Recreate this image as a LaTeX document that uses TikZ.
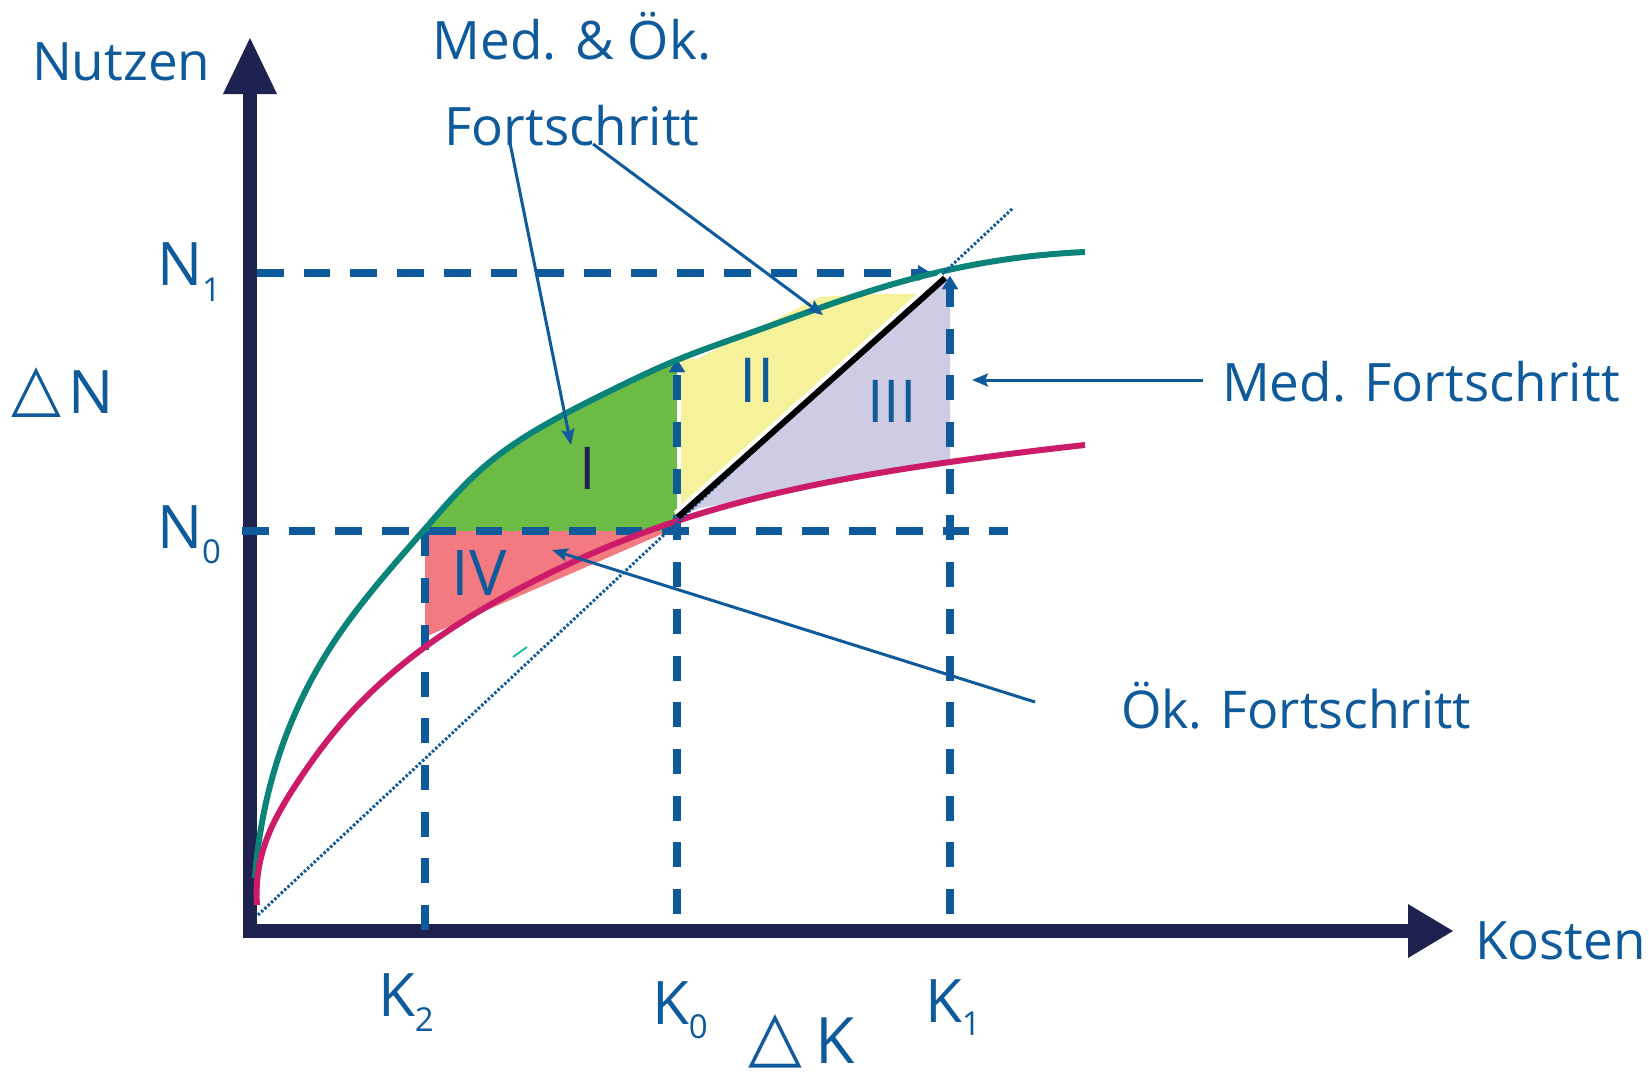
\documentclass[tikz,border=0pt]{standalone}
\usepackage{fontspec}
\setmainfont{Open Sans}
\newfontfamily\dejavu{DejaVu Sans}
\usetikzlibrary{arrows.meta,hobby}
\definecolor{txtblue}{HTML}{0F5A9A}
\definecolor{navy}{HTML}{1F2150}
\definecolor{tealc}{HTML}{0A8378}
\definecolor{magc}{HTML}{CC1B68}
\definecolor{greenc}{HTML}{6CBB45}
\definecolor{yellowc}{HTML}{F6F29B}
\definecolor{lavc}{HTML}{CECBE4}
\definecolor{salmonc}{HTML}{F27A80}
\definecolor{straytl}{HTML}{22C0A0}
\newcommand{\lsub}[2]{\raisebox{-#1pt}{\fontsize{33}{33}\selectfont #2}}
\newcommand{\tri}[2]{\raisebox{#2pt}{\fontsize{#1}{#1}\dejavu △}}
\begin{document}
\begin{tikzpicture}[x=1pt,y=-1pt,
  lbl/.style={text=txtblue, inner sep=0pt, outer sep=0pt, anchor=base west},
  big/.style={font=\fontsize{53}{60}\selectfont},
  axlbl/.style={font=\fontsize{60}{60}\selectfont},
  reg/.style={text=txtblue, inner sep=0pt, anchor=base},
  guide/.style={txtblue, line width=7.5pt, dash pattern=on 26.7pt off 20pt},
  vguide/.style={txtblue, line width=7.5pt, dash pattern=on 25pt off 21.7pt},
  gtip/.style={-{Triangle[length=13pt,width=16pt,line width=0.01pt]}},
  note/.style={txtblue, line width=3pt, -{Stealth[length=16pt,width=13pt,inset=3pt]}}
]
\useasboundingbox (0,0) rectangle (1649,1080);
\fill[white] (0,0) rectangle (1649,1080);

% ---- filled regions ----
\begin{scope}
  \clip (424,300) rectangle (677,531);
  \fill[greenc, use Hobby shortcut] (255,878) .. (263,817) .. (287,733) .. (330,648) .. (380,581) .. (424,530) .. (485,466) .. (561,416) .. (612,390) .. (677,360) .. (750,333) .. (867,292) .. (948,270) .. (1085,252) -- (1085,931) -- (255,931) -- cycle;
\end{scope}
\fill[salmonc] (425,531) -- (669,531) -- (425,637) -- cycle;
\fill[yellowc] (681,359) -- (697,359) -- (820,297) -- (867,294) -- (928,294) -- (681,508) -- cycle;
\fill[lavc] (678,517) -- (947,277) -- (950,280) -- (950,463) -- (700,508) -- cycle;

% ---- axes ----
\coordinate (O) at (250,931);
\coordinate (ytip) at (250,38);
\coordinate (xtip) at (1453,931);
\draw[navy, line width=14pt] (250,938) -- (250,90);
\fill[navy] (ytip) -- (277,94) -- (223,94) -- cycle;
\draw[navy, line width=14pt] (243,931) -- (1412,931);
\fill[navy] (xtip) -- (1408,904) -- (1408,958) -- cycle;

% ---- guide lines ----
\draw[guide, gtip] (257,273) -- (931,273);
\draw[guide] (242,531) -- (1008,531);
\draw[vguide] (425,930) -- (425,531);
\draw[vguide, gtip] (677,914) -- (677,359);
\draw[vguide, gtip] (950,914) -- (950,276);

% ---- curves ----
\draw[tealc, line width=6pt, use Hobby shortcut] (255,878) .. (263,817) .. (287,733) .. (330,648) .. (380,581) .. (424,530) .. (485,466) .. (561,416) .. (612,390) .. (677,360) .. (750,333) .. (867,292) .. (948,270) .. (1085,252);
\draw[magc, line width=6pt, use Hobby shortcut] (257,905) .. (263,850) .. (297,783) .. (347,717) .. (425,647) .. (530,583) .. (600,550) .. (677,521) .. (800,488) .. (950,462) .. (1085,445);
\draw[txtblue, line width=3pt, dash pattern=on 2.5pt off 2pt] (258,915) -- (1013,208);
\draw[white, line width=4pt] (675,513) -- (942,274);
\draw[black, line width=6pt] (678,517) -- (945,278);
\draw[straytl, line width=2pt] (513,657) -- (527,647);

% ---- region labels ----
\node[reg, text=navy, font=\fontsize{59}{60}\selectfont] (rI) at (588,489) {I};
\node[reg, font=\fontsize{62}{60}\selectfont] (rII) at (757,402) {II};
\node[reg, font=\fontsize{59}{60}\selectfont] (rIII) at (892,422) {III};
\node[reg, font=\fontsize{63}{60}\selectfont] (rIV) at (479,595) {IV};

% ---- axis labels ----
\node[lbl, big] (nutzen) at (32,80) {Nutzen};
\node[lbl, big] (kosten) at (1475,959) {Kosten};
\node[lbl, axlbl] (N1) at (157,285) {N\lsub{16}{1}};
\node[lbl, axlbl] (N0) at (157,548) {N\lsub{15}{0}};
\node[lbl, axlbl] (dN) at (11,413) {\tri{65}{4}\hspace{8pt}N};
\node[lbl, axlbl] (K2) at (378,1016) {K\lsub{15}{2}};
\node[lbl, axlbl] (K0) at (652,1024) {K\lsub{14}{0}};
\node[lbl, axlbl] (K1) at (925,1022) {K\lsub{13}{1}};
\node[lbl, font=\fontsize{64}{64}\selectfont] (dK) at (748,1063) {\tri{70}{4}\hspace{14pt}K};

% ---- annotations ----
\node[text=txtblue, inner sep=0pt, anchor=base, big] (both1) at (572,59) {Med. \& Ök.};
\node[text=txtblue, inner sep=0pt, anchor=base, big] (both2) at (572,145) {Fortschritt};
\node[lbl, big] (med) at (1222,401) {Med. Fortschritt};
\node[lbl, font=\fontsize{52}{60}\selectfont] (oek) at (1121,728) {Ök. Fortschritt};

\coordinate (a1s) at (510,143);
\coordinate (a1e) at (571,445);
\coordinate (a2s) at (593,144);
\coordinate (a2e) at (823,315);
\coordinate (a3s) at (1203,380);
\coordinate (a3e) at (972,380);
\coordinate (a4s) at (1035,702);
\coordinate (a4e) at (552,550);
\draw[note] (a1s) -- (a1e);
\draw[note] (a2s) -- (a2e);
\draw[note] (a3s) -- (a3e);
\draw[note] (a4s) -- (a4e);
\end{tikzpicture}
\end{document}
